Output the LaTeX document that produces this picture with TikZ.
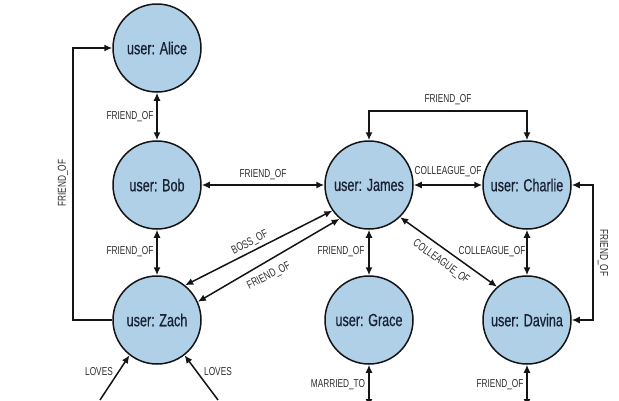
\documentclass[tikz,border=0pt]{standalone}
\usepackage{fontspec}
\setmainfont{Liberation Sans}[FakeStretch=0.72]
\newfontfamily\userfont{Liberation Sans}[FakeStretch=0.72,FakeBold=0.6]
\usetikzlibrary{arrows.meta}
\definecolor{nodefill}{RGB}{176,208,232}
\definecolor{nodetext}{RGB}{24,34,50}
\definecolor{labeltext}{RGB}{45,45,45}
\definecolor{edgecol}{RGB}{20,20,20}
\begin{document}
\begin{tikzpicture}[x=1pt,y=-1pt,
  user/.style={circle,draw=edgecol,line width=1.5pt,fill=nodefill,minimum size=88pt,inner sep=0pt,
    font=\userfont\fontsize{17.5}{20}\selectfont,text=nodetext},
  rel/.style={draw=edgecol,line width=1.5pt},
  tip/.tip={Latex[length=8pt,width=7pt]},
  lab/.style={font=\fontsize{11.5}{13}\selectfont,text=labeltext,inner sep=1pt}
]
\useasboundingbox (0,0) rectangle (619,400);
\clip (0,0) rectangle (619,400);
\fill[white] (0,0) rectangle (619,400);

\node[user] (alice)   at (157,48)  {user: Alice};
\node[user] (bob)     at (157,185) {user: Bob};
\node[user] (zach)    at (157,320) {user: Zach};
\node[user] (james)   at (369,185) {user: James};
\node[user] (grace)   at (369,320) {user: Grace};
\node[user] (charlie) at (527,185) {user: Charlie};
\node[user] (davina)  at (527,320) {user: Davina};

\coordinate (loveL) at (100,400);
\coordinate (loveR) at (218,400);
\coordinate (marr)  at (369,407);
\coordinate (dfr)   at (527,407);

% Alice - Bob
\draw[rel,tip-tip] (alice) -- (bob);
\node[lab] at (130,117) {FRIEND\_OF};
% Bob - Zach
\draw[rel,tip-tip] (bob) -- (zach);
\node[lab] at (130,252) {FRIEND\_OF};
% Zach -> Alice loop
\draw[rel,-tip] (zach.west) -- (73,320) -- (73,48) -- (alice.west);
\node[lab,rotate=90] at (63,183) {FRIEND\_OF};
% Bob - James
\draw[rel,tip-tip] (bob) -- (james);
\node[lab] at (263,175) {FRIEND\_OF};
% James - Charlie
\draw[rel,tip-tip] (james) -- (charlie);
\node[lab] at (448,172) {COLLEAGUE\_OF};
% James - Charlie top loop
\draw[rel,tip-tip] (james.north) -- (369,111) -- (527,111) -- (charlie.north);
\node[lab] at (448,100) {FRIEND\_OF};
% Charlie - Davina right loop
\draw[rel,tip-tip] (charlie.east) -- (593,185) -- (593,320) -- (davina.east);
\node[lab,rotate=-90] at (603,253) {FRIEND\_OF};
% Charlie - Davina
\draw[rel,tip-tip] (charlie) -- (davina);
\node[lab] at (492,252) {COLLEAGUE\_OF};
% James - Grace
\draw[rel,tip-tip] (james) -- (grace);
\node[lab] at (341,252) {FRIEND\_OF};
% James - Davina
\draw[rel,tip-tip] (james.-46) -- (davina.132);
\node[lab,rotate=-36] at (441,262) {COLLEAGUE\_OF};
% Zach - James
\draw[rel,tip-tip] (zach.51) -- (james.215);
\node[lab,rotate=27] at (250,243) {BOSS\_OF};
\draw[rel,tip-tip] (zach.24) -- (james.229);
\node[lab,rotate=27] at (269,276) {FRIEND\_OF};
% LOVES
\draw[rel,-tip] (loveL) -- (zach.232);
\node[lab] at (99,372) {LOVES};
\draw[rel,-tip] (loveR) -- (zach.-52);
\node[lab] at (218,372) {LOVES};
% Grace married
\draw[rel,tip-tip] (grace) -- (marr);
\node[lab] at (338,385) {MARRIED\_TO};
% Davina friend
\draw[rel,tip-tip] (davina) -- (dfr);
\node[lab] at (500,385) {FRIEND\_OF};
\end{tikzpicture}
\end{document}
